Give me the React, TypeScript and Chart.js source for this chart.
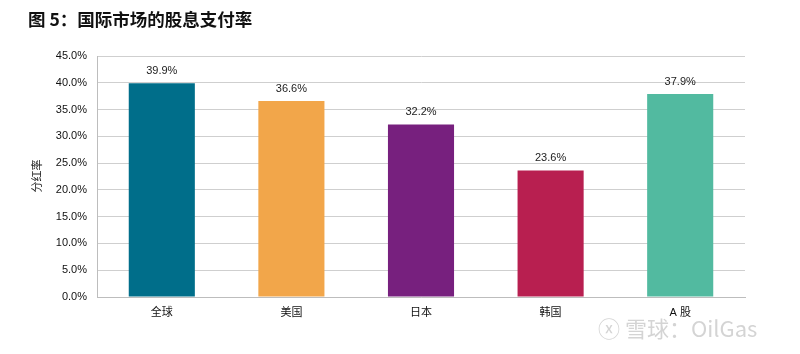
import React, { useEffect, useRef } from "react";
import { Chart, registerables } from "chart.js";

Chart.register(...registerables);

const categories = ["全球", "美国", "日本", "韩国", "A 股"];
const payoutRatios = [39.9, 36.6, 32.2, 23.6, 37.9];
const barColors = ["#006E8A", "#F2A64A", "#77207E", "#B81F50", "#52BAA0"];
const yTicksMax = 45;
const yTickStep = 5;

const FONT = "'Liberation Sans', Arial, 'Noto Sans CJK SC', sans-serif";

const labelPlugin = {
  id: "barLabels",
  afterDatasetsDraw(chart: any) {
    const ctx = chart.ctx;
    const meta = chart.getDatasetMeta(0);
    ctx.save();
    ctx.font = `11px ${FONT}`;
    ctx.fillStyle = "#222222";
    ctx.textAlign = "center";
    ctx.textBaseline = "bottom";
    meta.data.forEach((bar: any, i: number) => {
      ctx.fillText(payoutRatios[i].toFixed(1) + "%", bar.x, bar.y - 7);
    });
    ctx.translate(37, 176);
    ctx.rotate(-Math.PI / 2);
    ctx.textAlign = "center";
    ctx.textBaseline = "middle";
    ctx.font = `11px 'Noto Sans CJK SC', sans-serif`;
    ctx.fillText("分红率", 0, 0);
    ctx.restore();
  },
};

export default function App() {
  const ref = useRef<HTMLCanvasElement>(null);
  useEffect(() => {
    if (!ref.current) return;
    const chart = new Chart(ref.current, {
      type: "bar",
      data: {
        labels: categories,
        datasets: [
          {
            data: payoutRatios,
            backgroundColor: barColors,
            borderColor: barColors,
            borderWidth: 0,
            barPercentage: 0.51,
            categoryPercentage: 1,
          },
        ],
      },
      options: {
        animation: false,
        responsive: false,
        maintainAspectRatio: false,
        layout: { padding: { left: 0, top: 56, right: 55, bottom: 0 } },
        plugins: { legend: { display: false }, tooltip: { enabled: false }, title: { display: false } },
        scales: {
          x: {
            afterFit: (s: any) => {
              s.height = 57;
            },
            grid: { display: false, drawTicks: false },
            border: { color: "#BDBDBD", width: 1 },
            ticks: { padding: 9, color: "#111111", font: { family: FONT, size: 11 } },
          },
          y: {
            min: 0,
            max: yTicksMax,
            afterFit: (s: any) => {
              s.width = 97;
            },
            grid: { color: "#CFCFCF", drawTicks: false, lineWidth: 1 },
            border: { color: "#BDBDBD", width: 1 },
            ticks: {
              stepSize: yTickStep,
              padding: 10,
              color: "#111111",
              font: { family: FONT, size: 11 },
              callback: (v: any) => Number(v).toFixed(1) + "%",
            },
          },
        },
      },
      plugins: [labelPlugin],
    });
    return () => chart.destroy();
  }, []);

  return (
    <div style={{ position: "absolute", left: 0, top: 0, width: 800, height: 354, background: "#fff", overflow: "hidden" }}>
      <canvas ref={ref} width={800} height={354} style={{ position: "absolute", left: 0, top: 0 }} />
      <div
        style={{
          position: "absolute",
          left: 28,
          top: 8,
          fontFamily: "'Noto Sans CJK SC', sans-serif",
          fontWeight: 700,
          fontSize: 17.5,
          lineHeight: "22px",
          color: "#111",
          whiteSpace: "nowrap",
        }}
      >
        图 5：国际市场的股息支付率
      </div>
      <div
        style={{
          position: "absolute",
          left: 598,
          top: 313,
          fontFamily: "'Noto Sans CJK SC', sans-serif",
          fontSize: 22,
          lineHeight: "28px",
          color: "#D4D4D4",
          whiteSpace: "nowrap",
        }}
      >
        ⓧ 雪球：OilGas
      </div>
    </div>
  );
}
